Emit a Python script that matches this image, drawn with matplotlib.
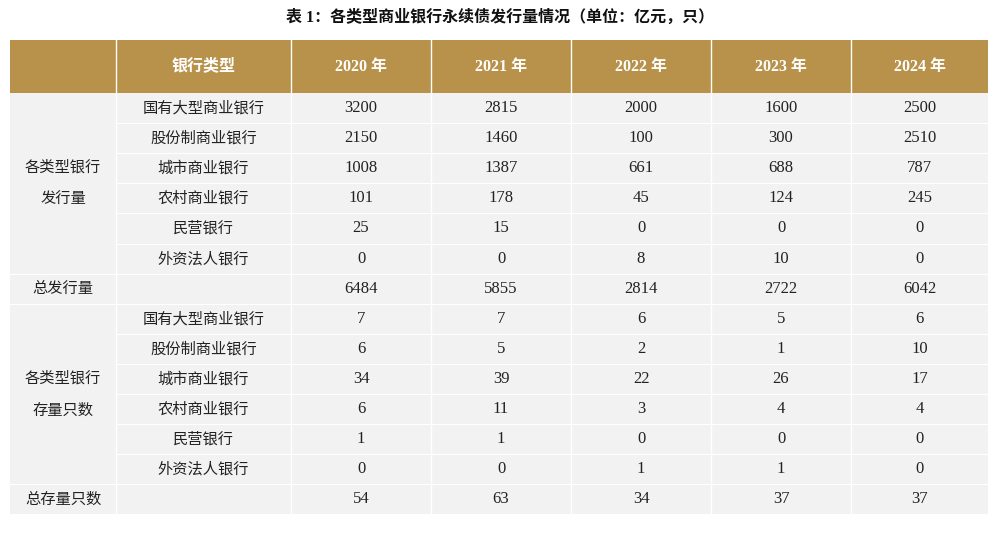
import matplotlib
matplotlib.use("Agg")
import matplotlib.pyplot as plt
from matplotlib.patches import Rectangle

plt.rcParams['font.family'] = ['Noto Sans CJK SC', 'DejaVu Sans']

title = "表 1：各类型商业银行永续债发行量情况（单位：亿元，只）"
header = ["", "银行类型", "2020 年", "2021 年", "2022 年", "2023 年", "2024 年"]
bank_types = ["国有大型商业银行", "股份制商业银行", "城市商业银行", "农村商业银行", "民营银行", "外资法人银行"]
issue = [[3200, 2815, 2000, 1600, 2500],
         [2150, 1460, 100, 300, 2510],
         [1008, 1387, 661, 688, 787],
         [101, 178, 45, 124, 245],
         [25, 15, 0, 0, 0],
         [0, 0, 8, 10, 0]]
issue_total = [6484, 5855, 2814, 2722, 6042]
count = [[7, 7, 6, 5, 6],
         [6, 5, 2, 1, 10],
         [34, 39, 22, 26, 17],
         [6, 11, 3, 4, 4],
         [1, 1, 0, 0, 0],
         [0, 0, 1, 1, 0]]
count_total = [54, 63, 34, 37, 37]
group1 = "各类型银行\n发行量"
group2 = "各类型银行\n存量只数"
total1 = "总发行量"
total2 = "总存量只数"

fig = plt.figure(figsize=(10, 5.54), dpi=100)
ax = fig.add_axes([0, 0, 1, 1])
ax.set_xlim(0, 1000); ax.set_ylim(554, 0); ax.axis('off')

xs = [10, 116, 291, 431, 571, 711, 851, 988]
hy0, hy1 = 40, 93
rh = 30.1
gold = '#B8924A'
body = '#F2F2F2'
serif = ['Liberation Serif', 'Noto Sans CJK SC']

ax.text(500, 18, title, ha='center', va='center', fontsize=11.5, fontweight='bold', color='#111',
        family=serif)
ax.add_patch(Rectangle((xs[0], hy0), xs[-1]-xs[0], hy1-hy0, color=gold, lw=0))
for i in range(1, len(xs)-1):
    ax.plot([xs[i], xs[i]], [hy0, hy1], color='white', lw=1)
for i, h in enumerate(header):
    if h:
        ax.text((xs[i]+xs[i+1])/2, (hy0+hy1)/2, h, ha='center', va='center',
                color='white', fontsize=11.5, fontweight='bold', family=serif)

nrows = 14
ax.add_patch(Rectangle((xs[0], hy1), xs[-1]-xs[0], nrows*rh, color=body, lw=0))
for i in range(1, len(xs)-1):
    ax.plot([xs[i], xs[i]], [hy1, hy1+nrows*rh], color='white', lw=1)
for r in range(1, nrows):
    y = hy1 + r*rh
    ax.plot([xs[1], xs[-1]], [y, y], color='white', lw=0.8)
for r in (6, 7, 13):
    y = hy1 + r*rh
    ax.plot([xs[0], xs[-1]], [y, y], color='white', lw=0.8)

fs = 11
def row(r, label, vals, first=None):
    yc = hy1 + (r+0.5)*rh
    if first:
        ax.text((xs[0]+xs[1])/2, yc, first, ha='center', va='center', fontsize=fs, color='#222')
    if label:
        ax.text((xs[1]+xs[2])/2, yc, label, ha='center', va='center', fontsize=fs, color='#222')
    for j, v in enumerate(vals):
        ax.text((xs[j+2]+xs[j+3])/2, yc, str(v), ha='center', va='center', fontsize=12,
                color='#222', family='Liberation Serif')

for r, (b, v) in enumerate(zip(bank_types, issue)):
    row(r, b, v)
row(6, None, issue_total, total1)
for r, (b, v) in enumerate(zip(bank_types, count)):
    row(r+7, b, v)
row(13, None, count_total, total2)

ax.text((xs[0]+xs[1])/2, hy1+3*rh, group1, ha='center', va='center', fontsize=fs, color='#222', linespacing=2.2)
ax.text((xs[0]+xs[1])/2, hy1+10*rh, group2, ha='center', va='center', fontsize=fs, color='#222', linespacing=2.2)

fig.savefig('out.png', dpi=100, facecolor='white')
